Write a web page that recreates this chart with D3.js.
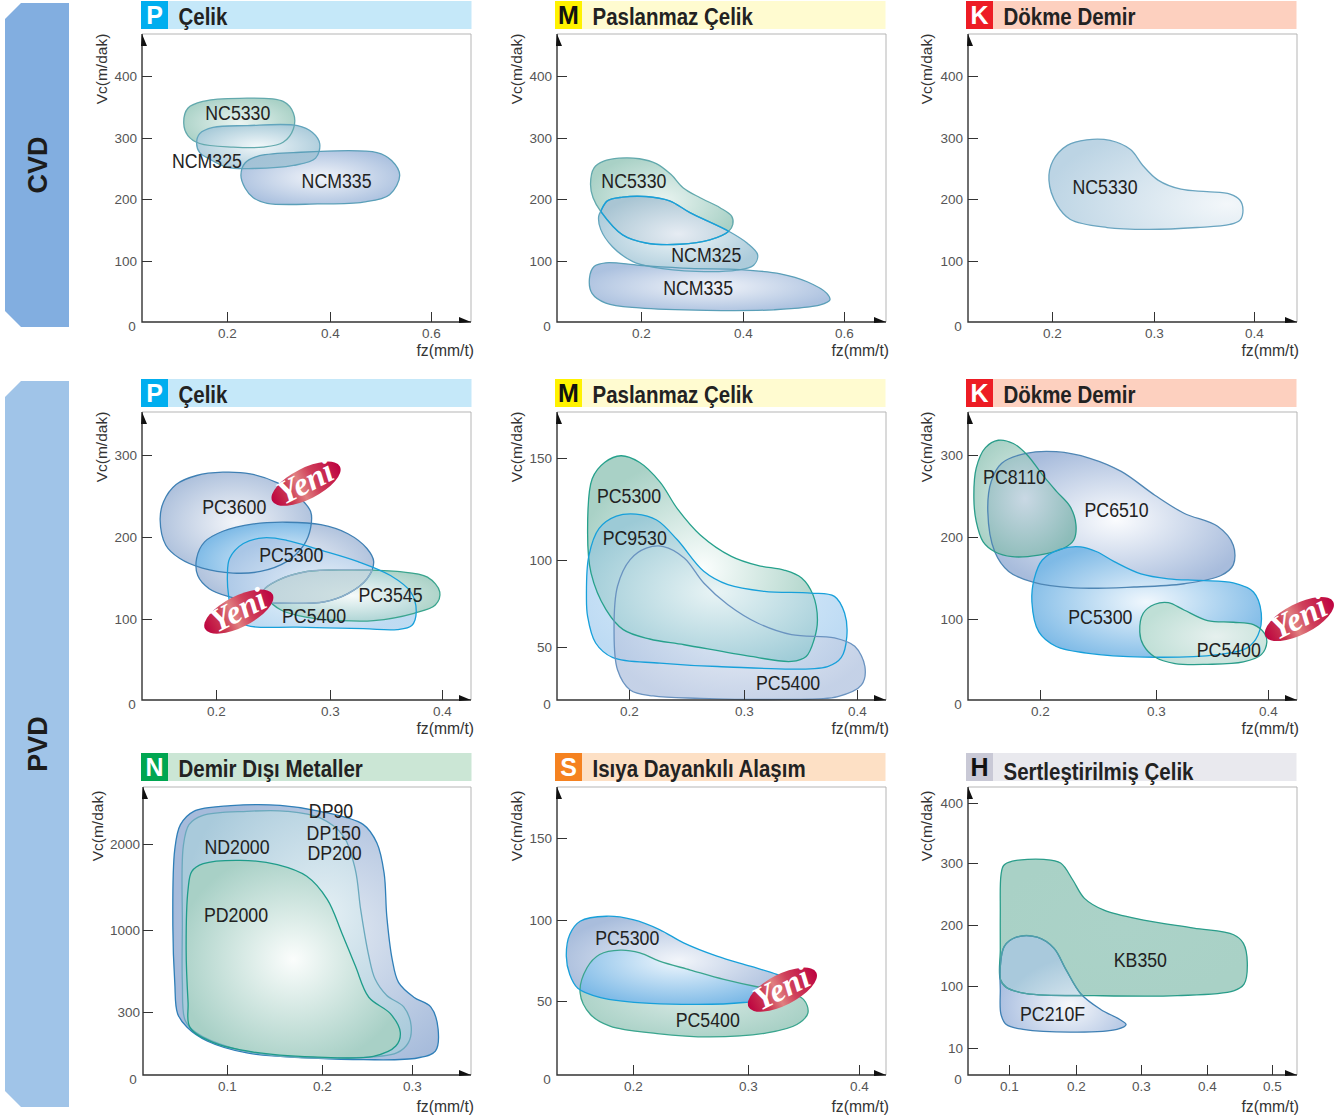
<!DOCTYPE html>
<html><head><meta charset="utf-8">
<script src="https://cdn.jsdelivr.net/npm/d3@7/dist/d3.min.js"></script>
<style>
html,body{margin:0;padding:0;background:#fff}
svg{display:block}
text{font-family:"Liberation Sans",Arial,sans-serif}
</style></head><body><svg id="c" width="1342" height="1116"></svg>
<script>
// ---------- tick labels ----------
const xTicksCvdP=[0.2,0.4,0.6], xTicksCvdM=[0.2,0.4,0.6], xTicksCvdK=[0.2,0.3,0.4];
const yTicksCvd=[100,200,300,400];
const xTicksPvd=[0.2,0.3,0.4];
const yTicksP=[100,200,300], yTicksM=[50,100,150];
const xTicksN=[0.1,0.2,0.3], yTicksN=[300,1000,2000];
const yTicksS=[50,100,150];
const xTicksH=[0.1,0.2,0.3,0.4,0.5], yTicksH=[10,100,200,300,400];

// ---------- CVD / P ----------
const cvdP_NC5330=[[.116,324],[.124,348],[.153,359],[.225,364],[.309,359],[.329,340],[.329,315],[.309,293],[.27,285],[.212,285],[.147,291],[.124,304]];
const cvdP_NCM325=[[.141,291],[.147,307],[.173,317],[.239,320],[.337,320],[.366,309],[.38,291],[.372,267],[.329,255],[.251,250],[.2,252],[.163,267],[.147,276]];
const cvdP_NCM335=[[.227,239],[.235,259],[.259,270],[.329,276],[.493,276],[.522,263],[.538,239],[.518,207],[.466,195],[.376,192],[.278,193],[.251,202],[.235,218]];
// ---------- CVD / M ----------
const cvdM_NC5330=[[.101,224],[.108,251],[.127,262],[.157,267],[.197,266],[.23,258],[.259,240],[.283,218],[.316,202],[.355,186],[.378,172],[.38,159],[.372,148],[.335,134],[.276,127],[.21,129],[.164,142],[.121,180],[.106,202]];
const cvdM_NCM325=[[.121,180],[.134,197],[.164,203],[.21,204],[.256,197],[.296,178],[.372,148],[.408,129],[.429,110],[.421,93],[.388,85],[.309,83],[.223,90],[.184,99],[.144,123],[.121,151],[.117,172]];
const cvdM_NCM335=[[.099,72],[.108,91],[.131,97],[.197,93],[.296,88],[.395,86],[.474,79],[.527,66],[.566,47],[.572,36],[.553,28],[.461,20],[.329,19],[.197,23],[.131,31],[.104,47]];
// ---------- CVD / K ----------
const cvdK_NC5330=[[.197,231],[.201,263],[.215,288],[.234,297],[.257,296],[.277,281],[.289,255],[.304,231],[.327,216],[.353,212],[.376,208],[.386,198],[.389,182],[.386,166],[.376,159],[.343,154],[.294,151],[.254,154],[.218,167],[.205,190]];
// ---------- PVD / P ----------
const pvdP_PC3600=[[.151,221],[.154,243],[.165,264],[.183,275],[.206,279],[.23,277],[.254,266],[.271,251],[.283,231],[.283,211],[.277,190],[.262,170],[.239,158],[.215,156],[.188,162],[.168,174],[.156,190]];
const pvdP_PC5300=[[.183,174],[.19,194],[.206,207],[.233,216],[.262,218],[.292,215],[.316,204],[.333,186],[.339,170],[.333,149],[.316,131],[.295,121],[.268,119],[.239,121],[.212,127],[.194,137],[.184,153]];
const pvdP_PC5400=[[.21,153],[.212,174],[.224,192],[.242,199],[.262,196],[.292,184],[.325,170],[.354,153],[.372,133],[.377,109],[.373,92],[.36,87],[.33,88],[.271,90],[.227,92],[.215,104],[.211,129]];
const pvdP_PC3545=[[.242,135],[.254,147],[.28,158],[.316,160],[.36,158],[.387,151],[.398,133],[.394,117],[.375,107],[.339,98],[.31,98],[.28,102],[.257,111],[.245,125]];
// ---------- PVD / M ----------
const pvdM_PC5300=[[.164,113.1],[.168,139.8],[.179,147.9],[.193,151.1],[.209,147.9],[.227,138.2],[.242,125.2],[.262,112.3],[.289,101.8],[.312,96.9],[.336,94.1],[.351,89.7],[.361,80.1],[.365,65.7],[.362,54.2],[.355,41.1],[.342,36.4],[.306,41.1],[.248,51.3],[.218,54.6],[.195,60],[.18,71.5],[.167,92.5]];
const pvdM_PC9530=[[.163,79.1],[.165,101.8],[.174,115.5],[.189,121.5],[.206,122.5],[.224,119.6],[.242,109.9],[.265,93.5],[.286,85.8],[.318,82],[.359,81],[.38,79.1],[.389,69.5],[.391,56.1],[.386,39.9],[.374,31.6],[.277,31.6],[.227,34.8],[.186,39.9],[.171,52.3],[.164,67.6]];
const pvdM_PC5400=[[.187,60],[.19,84.9],[.201,100.2],[.215,105.8],[.23,106.6],[.248,101],[.265,86.8],[.286,74.3],[.312,63.8],[.342,57.1],[.38,55.2],[.398,50.4],[.407,31.6],[.404,14.2],[.383,3.2],[.336,.6],[.262,1.6],[.221,3.8],[.201,9.5],[.19,28.5]];
// ---------- PVD / K ----------
const pvdK_PC8110=[[.143,247],[.145,284],[.153,309],[.164,318],[.177,314],[.189,300],[.202,276],[.214,256],[.226,237],[.231,215],[.229,196],[.22,186],[.199,178],[.176,176],[.161,182],[.151,194],[.145,219]];
const pvdK_PC6510=[[.155,231],[.158,268],[.167,290],[.188,302],[.214,304],[.243,296],[.27,280],[.299,251],[.325,229],[.355,213],[.369,190],[.369,166],[.358,153],[.325,143],[.281,139],[.229,138],[.194,145],[.173,158],[.161,182]];
const pvdK_PC5300=[[.193,121],[.195,149],[.202,172],[.217,185],[.235,188],[.249,182],[.264,170],[.287,155],[.311,149],[.34,147],[.369,144],[.387,133],[.394,107],[.391,80],[.381,64],[.355,56],[.29,53],[.24,58],[.214,66],[.199,84]];
const pvdK_PC5400=[[.286,84],[.289,107],[.299,118],[.311,120],[.325,111],[.346,98],[.369,96],[.387,93],[.397,82],[.399,72],[.394,56],[.378,47],[.346,44],[.317,45],[.299,53],[.289,68]];
// ---------- PVD / N ----------
const pvdN_DP90=[[.043,1043],[.045,1934],[.051,2225],[.065,2380],[.104,2446],[.156,2450],[.198,2380],[.246,2225],[.261,2011],[.269,1662],[.272,1159],[.278,750],[.285,553],[.302,426],[.321,342],[.329,219],[.326,114],[.306,81],[.246,73],[.191,81],[.121,105],[.079,162],[.058,227],[.048,292],[.045,553]];
const pvdN_ND2000=[[.053,1043],[.054,1973],[.06,2225],[.074,2330],[.121,2380],[.163,2380],[.198,2303],[.224,2090],[.237,1703],[.243,1236],[.252,778],[.259,581],[.272,441],[.291,342],[.299,235],[.296,154],[.283,105],[.228,81],[.156,89],[.104,130],[.067,203],[.056,259],[.053,553]];
const pvdN_PD2000=[[.057,834],[.059,1469],[.063,1682],[.075,1771],[.114,1810],[.153,1760],[.184,1624],[.206,1353],[.222,975],[.237,694],[.252,426],[.276,292],[.287,203],[.282,138],[.257,89],[.191,86],[.128,109],[.086,154],[.061,227],[.059,384]];
// ---------- PVD / S ----------
const pvdS_PC5300=[[.142,77.7],[.145,91],[.154,99.2],[.177,102.3],[.2,100.2],[.223,94.1],[.244,85.9],[.273,77.7],[.302,71.5],[.326,66.4],[.338,62.3],[.332,54.1],[.296,49],[.215,48.4],[.171,52.3],[.152,57.9],[.145,66.4]];
const pvdS_PC5400=[[.154,55.1],[.16,70.5],[.171,78.7],[.189,81.4],[.206,79.7],[.223,74.6],[.25,69.1],[.279,63.3],[.308,58.8],[.332,56.1],[.35,51],[.354,42],[.344,34.1],[.317,28.4],[.267,25.7],[.221,28],[.18,33],[.163,40.9]];
// ---------- PVD / H ----------
const pvdH_KB350=[[.087,111],[.087,160],[.087,220],[.088,280],[.092,296],[.105,303],[.152,306],[.177,300],[.195,273],[.213,243],[.243,224],[.304,208],[.38,195],[.441,184],[.456,170],[.462,138],[.457,103],[.441,93],[.355,86],[.228,86],[.126,89],[.096,98]];
const pvdH_PC210F=[[.087,132],[.093,165],[.111,180],[.142,180],[.167,162],[.185,127],[.208,88],[.238,66],[.268,51],[.277,44],[.263,37],[.202,33],[.121,37],[.096,44],[.088,59],[.087,95]];

// ---------- colour sets: [centre, edge, stroke, opacity] ----------
const TEAL=['#eaf4f1','#a9d1c6','#62a9ad',1];
const SKY=['#eef5f8','#a8c9d9','#62a5bd',.95], STEEL=['#f0f3f9','#a6bddd','#5a9fb8',.93];
const ROYAL=['#f3f5f9','#a9bdda','#3f80b4',.97], BRIGHT=['#f0f7fd','#7cb9e6','#17a0da',.97];
const PALE=['#f0f6fc','#bcdaf2','#17a0da',.96];

// ---------- panels ----------
const panels=[
 {letter:'P',title:'Çelik',bg:'#00aeef',band:'#c5e8f9',fg:'#fff',col:0,row:0,xt:xTicksCvdP,xp:[227,330,431],yt:yTicksCvd,yp:[322,261,199,138,76],
  shapes:[{n:'a',d:cvdP_NC5330,c:TEAL},{n:'b',d:cvdP_NCM325,c:SKY},{n:'c',d:cvdP_NCM335,c:STEEL}],
  overlaps:[{a:'a',b:'b',c:['#f2f8fa','#a9cbd9']},{a:'b',b:'c',c:['#a9c8d8','#a3c2d6']}],
  labels:[['NC5330',.221,340],['NCM325',.161,263],['NCM335',.413,229]],badges:[]},
 {letter:'M',title:'Paslanmaz Çelik',bg:'#fff200',band:'#fffbd0',fg:'#111',col:1,row:0,xt:xTicksCvdM,xp:[641,743,844],yt:yTicksCvd,yp:[322,261,199,138,76],
  shapes:[{n:'a',d:cvdM_NC5330,c:TEAL},{n:'b',d:cvdM_NCM325,c:SKY},{n:'c',d:cvdM_NCM335,c:STEEL}],
  overlaps:[{a:'a',b:'b',c:['#e6ecf3','#a9c5d3'],stroke:'#17a0da'}],
  labels:[['NC5330',.186,229],['NCM325',.328,109],['NCM335',.312,55]],badges:[]},
 {letter:'K',title:'Dökme Demir',bg:'#ed1c24',band:'#fdd0bf',fg:'#fff',col:2,row:0,xt:xTicksCvdK,xp:[1052,1154,1254],yt:yTicksCvd,yp:[322,261,199,138,76],
  shapes:[{n:'a',d:cvdK_NC5330,c:['#f3f7fa','#bcd4e4','#6aa5c0',1],g:[.92,.72,.95]}],overlaps:[],
  labels:[['NC5330',.252,220]],badges:[]},
 {letter:'P',title:'Çelik',bg:'#00aeef',band:'#c5e8f9',fg:'#fff',col:0,row:1,xt:xTicksPvd,xp:[216,330,442],yt:yTicksP,yp:[700,619,537,455],
  shapes:[{n:'a',d:pvdP_PC3600,c:ROYAL},{n:'b',d:pvdP_PC5300,c:ROYAL},{n:'d',d:pvdP_PC3545,c:['#edf5f3','#a9d1c6','#3aa58e',1]},{n:'c',d:pvdP_PC5400,c:PALE}],
  overlaps:[{a:'a',b:'b',c:['#f0f7fd','#76b6e5']},{a:'b',b:'c',c:['#e6eff8','#a9c6e6']},{a:'c',b:'d',c:['#f6fafa','#a9d2d2']},{a:'b',b:'d',c:['#cfe0e2','#bfd4dc'],stroke:'#8fb0c8'}],
  labels:[['PC3600',.216,237],['PC5300',.266,178],['PC5400',.286,104],['PC3545',.354,129]],badges:[[.279,265],[.22,109]]},
 {letter:'M',title:'Paslanmaz Çelik',bg:'#fff200',band:'#fffbd0',fg:'#111',col:1,row:1,xt:xTicksPvd,xp:[629,744,857],yt:yTicksM,yp:[700,647,560,458],
  shapes:[{n:'a',d:pvdM_PC5300,c:['#fbfefd','#a9d1c6','#26a18c',1],g:[.5,.55,.55]},{n:'b',d:pvdM_PC9530,c:['#e0eefa','#bad9f3','#17a0da',.95]},{n:'c',d:pvdM_PC5400,c:['#e6ecf5','#b6c6e1','#6a93c0',.8]}],
  overlaps:[{a:'a',b:'b',c:['#e9f4f5','#9ccad6']}],
  labels:[['PC5300',.2,131.2],['PC9530',.205,110.8],['PC5400',.339,16.1]],badges:[]},
 {letter:'K',title:'Dökme Demir',bg:'#ed1c24',band:'#fdd0bf',fg:'#fff',col:2,row:1,xt:xTicksPvd,xp:[1040,1156,1268],yt:yTicksP,yp:[700,619,537,455],
  shapes:[{n:'a',d:pvdK_PC6510,c:['#fbfcfe','#a8bcdc','#4f86b4',1],g:[.52,.5,.55]},{n:'b',d:pvdK_PC8110,c:['#e2efeb','#a9d1c6','#2a9d8a',1]},{n:'c',d:pvdK_PC5300,c:BRIGHT},{n:'e',d:pvdK_PC5400,c:['#e6f0ee','#bfdfd6','#2a9d8a',1],g:[.6,.55,.6]}],
  overlaps:[{a:'a',b:'b',c:['#c9d8e4','#8dbcb9']}],
  labels:[['PC8110',.178,273],['PC6510',.266,233],['PC5300',.252,102],['PC5400',.365,62]],badges:[[.428,100]]},
 {letter:'N',title:'Demir Dışı Metaller',bg:'#00a651',band:'#cbe6d5',fg:'#fff',col:0,row:2,xt:xTicksN,xp:[227,322,412],yt:yTicksN,yp:[1075,1012,930,844],vcx:98,ax:143,pad:3,
  shapes:[{n:'a',d:pvdN_DP90,c:['#e2e9f2','#a6bbdb','#2f7fb8',1],g:[.6,.5,.6]},{n:'b',d:pvdN_ND2000,c:['#e4eff4','#a9cadb','#6aa9bd',1],g:[.62,.42,.62]},{n:'c',d:pvdN_PD2000,c:['#fbfdfc','#a8d0c6','#1e9c8a',1],g:[.5,.5,.55]}],overlaps:[],
  labels:[['ND2000',.1105,1965],['PD2000',.1095,1174],['DP90',.21,2384],['DP150',.213,2128],['DP200',.214,1895]],badges:[]},
 {letter:'S',title:'Isıya Dayankılı Alaşım',bg:'#f58220',band:'#fde0c5',fg:'#fff',col:1,row:2,xt:xTicksPvd,xp:[633,748,859],yt:yTicksS,yp:[1075,1001,920,838],
  shapes:[{n:'a',d:pvdS_PC5400,c:['#dcebe7','#a9d1c6','#3aa58e',1]},{n:'b',d:pvdS_PC5300,c:['#f2f5fa','#a9bddc','#17a0da',1]}],
  overlaps:[{a:'a',b:'b',c:['#f0f7fd','#7ab8e6']}],
  labels:[['PC5300',.195,89],['PC5400',.265,37.5]],badges:[[.331,57]]},
 {letter:'H',title:'Sertleştirilmiş Çelik',titleDy:3,bg:'#c9c9d6',band:'#e9e9ee',fg:'#111',col:2,row:2,xt:xTicksH,xp:[1009,1076,1141,1207,1272],yt:yTicksH,yp:[1075,1048,986,925,863,803],
  shapes:[{n:'a',d:pvdH_KB350,c:['#abd2c8','#a9d1c6','#2a9d8a',1]},{n:'b',d:pvdH_PC210F,c:['#f6f8fb','#a6bcdf','#3f80b4',1],g:[.55,.72,.6]}],
  overlaps:[{a:'a',b:'b',c:['#f2f7f9','#a9c9dc'],g:[.72,.95,.75],stroke:'#4fa0a8'}],
  labels:[['KB350',.299,143],['PC210F',.165,60]],badges:[]}
];

// ---------- layout ----------
const colAxis=[142,557,968], colRight=[471,886,1297], colBand=[141,555,966], colVc=[102,517,927];
const rowBand=[1,379,753], rowTop=[34,412,787], rowBottom=[322,700,1075], rowXLab=[351,729,1107], rowVc=[69,447,826];

const svg=d3.select('#c');
const defs=svg.append('defs');
let uid=0;

function grad(c,g){
  const id='g'+(uid++); const [cx,cy,r]=g||[.5,.5,.55];
  const rg=defs.append('radialGradient').attr('id',id).attr('cx',cx).attr('cy',cy).attr('r',r);
  rg.append('stop').attr('offset',0).attr('stop-color',c[0]);
  rg.append('stop').attr('offset',1).attr('stop-color',c[1]);
  return `url(#${id})`;
}
function txt(sel,s,x,y,o={}){
  return sel.append('text').attr('transform',`translate(${x},${y}) rotate(${o.rot||0}) scale(${o.sx||1},1)`)
    .attr('text-anchor',o.anchor||'middle').attr('font-size',o.size||14).attr('font-weight',o.weight||'normal')
    .attr('fill',o.fill||'#333').text(s);
}

// side bars
[[3,327,'#82aee0','CVD'],[381,1107,'#a0c4e8','PVD']].forEach(([t,b,col,name])=>{
  const l=5,r=69,k=16;
  svg.append('polygon').attr('points',[[l+k,t],[r,t],[r,b],[l+k,b],[l,b-k],[l,t+k]].join(' ')).attr('fill',col);
  txt(svg,name,47,(t+b)/2,{rot:-90,size:27,weight:'bold',fill:'#1c1c1c',sx:1});
});

const line=d3.line().curve(d3.curveCatmullRomClosed.alpha(.5));

const bGrad=defs.append('linearGradient').attr('id','yeni');
[[0,'#bd0340'],[.22,'#c93350'],[.42,'#e07f80'],[.62,'#cf3f5a'],[1,'#bd0340']].forEach(([o,c])=>bGrad.append('stop').attr('offset',o).attr('stop-color',c));

panels.forEach(p=>{
  const ax=p.ax||colAxis[p.col], rx=colRight[p.col], top=rowTop[p.row], bot=rowBottom[p.row];
  const x=d3.scaleLinear().domain(p.xt).range(p.xp);
  const y=d3.scaleLinear().domain([0,...p.yt]).range(p.yp);
  const g=svg.append('g');
  // header
  const bx=colBand[p.col], by=rowBand[p.row];
  g.append('rect').attr('x',bx).attr('y',by).attr('width',330.5).attr('height',28).attr('fill',p.band);
  g.append('rect').attr('x',bx).attr('y',by).attr('width',27).attr('height',28).attr('fill',p.bg);
  txt(g,p.letter,bx+13.5,by+23,{size:25,weight:'bold',fill:p.fg});
  txt(g,p.title,bx+37.5,by+24+(p.titleDy||0),{size:23,weight:'bold',fill:'#222',anchor:'start',sx:.89});
  // frame
  g.append('path').attr('d',`M${ax},${top}H${rx}V${bot}`).attr('fill','none').attr('stroke','#b5b5b5').attr('stroke-width',1);
  // shapes
  const path={};
  p.shapes.forEach(s=>{path[s.n]=line(s.d.map(d=>[x(d[0]),y(d[1])]));});
  const clip={};
  const clipOf=n=>{ if(!clip[n]){const id='c'+(uid++);defs.append('clipPath').attr('id',id).append('path').attr('d',path[n]);clip[n]=`url(#${id})`;} return clip[n];};
  p.shapes.forEach(s=>{
    g.append('path').attr('d',path[s.n]).attr('fill',grad(s.c,s.g)).attr('fill-opacity',s.c[3]);
  });
  p.overlaps.forEach(o=>{
    g.append('g').attr('clip-path',clipOf(o.a)).append('path').attr('d',path[o.b]).attr('fill',grad(o.c,o.g));
  });
  p.shapes.forEach(s=>{
    g.append('path').attr('d',path[s.n]).attr('fill','none').attr('stroke',s.c[2]).attr('stroke-width',1.3);
  });
  p.overlaps.filter(o=>o.stroke).forEach(o=>{
    g.append('g').attr('clip-path',clipOf(o.a)).append('path').attr('d',path[o.b]).attr('fill','none').attr('stroke',o.stroke).attr('stroke-width',1.4);
    g.append('g').attr('clip-path',clipOf(o.b)).append('path').attr('d',path[o.a]).attr('fill','none').attr('stroke',o.stroke).attr('stroke-width',1.4);
  });
  // axes
  const ya=d3.axisLeft(y).tickValues(p.yt).tickSizeInner(-10).tickSizeOuter(0).tickPadding(p.pad||5).tickFormat(d3.format('d'));
  const xa=d3.axisBottom(x).tickValues(p.xt).tickSizeInner(-10).tickSizeOuter(0).tickPadding(6).tickFormat(d3.format('.1f'));
  const yg=g.append('g').attr('transform',`translate(${ax},0)`).call(ya);
  const xg=g.append('g').attr('transform',`translate(0,${bot})`).call(xa);
  [yg,xg].forEach(a=>{a.select('.domain').remove();a.selectAll('line').attr('stroke','#333');
    a.selectAll('text').attr('font-size',13.5).attr('fill','#555').style('font-family','"Liberation Sans",Arial,sans-serif');});
  g.append('path').attr('d',`M${ax},${top}V${bot}H${rx}`).attr('fill','none').attr('stroke','#333').attr('stroke-width',1.4);
  g.append('path').attr('d',`M${ax-1},${top+12}L${ax},${top}L${ax+5},${top+12}Z`).attr('fill','#111');
  g.append('path').attr('d',`M${rx-12},${bot-5}L${rx},${bot}L${rx-12},${bot+1}Z`).attr('fill','#111');
  txt(g,'0',ax-10,bot+9,{size:13.5,fill:'#555'});
  // axis titles
  txt(g,'Vc(m/dak)',(p.vcx||colVc[p.col])+5,rowVc[p.row],{rot:-90,size:15.5,fill:'#333'});
  txt(g,'fz(mm/t)',rx+(p.col===2?2:3),rowXLab[p.row]+5,{anchor:'end',size:15.7,fill:'#333'});
  // labels
  p.labels.forEach(([s,lx,ly])=>txt(g,s,x(lx),y(ly)+7,{size:19.5,sx:.91,fill:'#222'}));
  // badges
  p.badges.forEach(([bxv,byv])=>{
    const b=g.append('g').attr('transform',`translate(${x(bxv)},${y(byv)}) rotate(-27)`);
    b.append('ellipse').attr('rx',38).attr('ry',15.5).attr('fill','url(#yeni)');
    b.append('text').attr('text-anchor','middle').attr('y',9).attr('font-size',33).attr('font-style','italic').attr('font-weight','bold')
     .style('font-family','"Liberation Serif",serif').attr('fill','#fff').text('Yeni');
  });
});
</script></body></html>
